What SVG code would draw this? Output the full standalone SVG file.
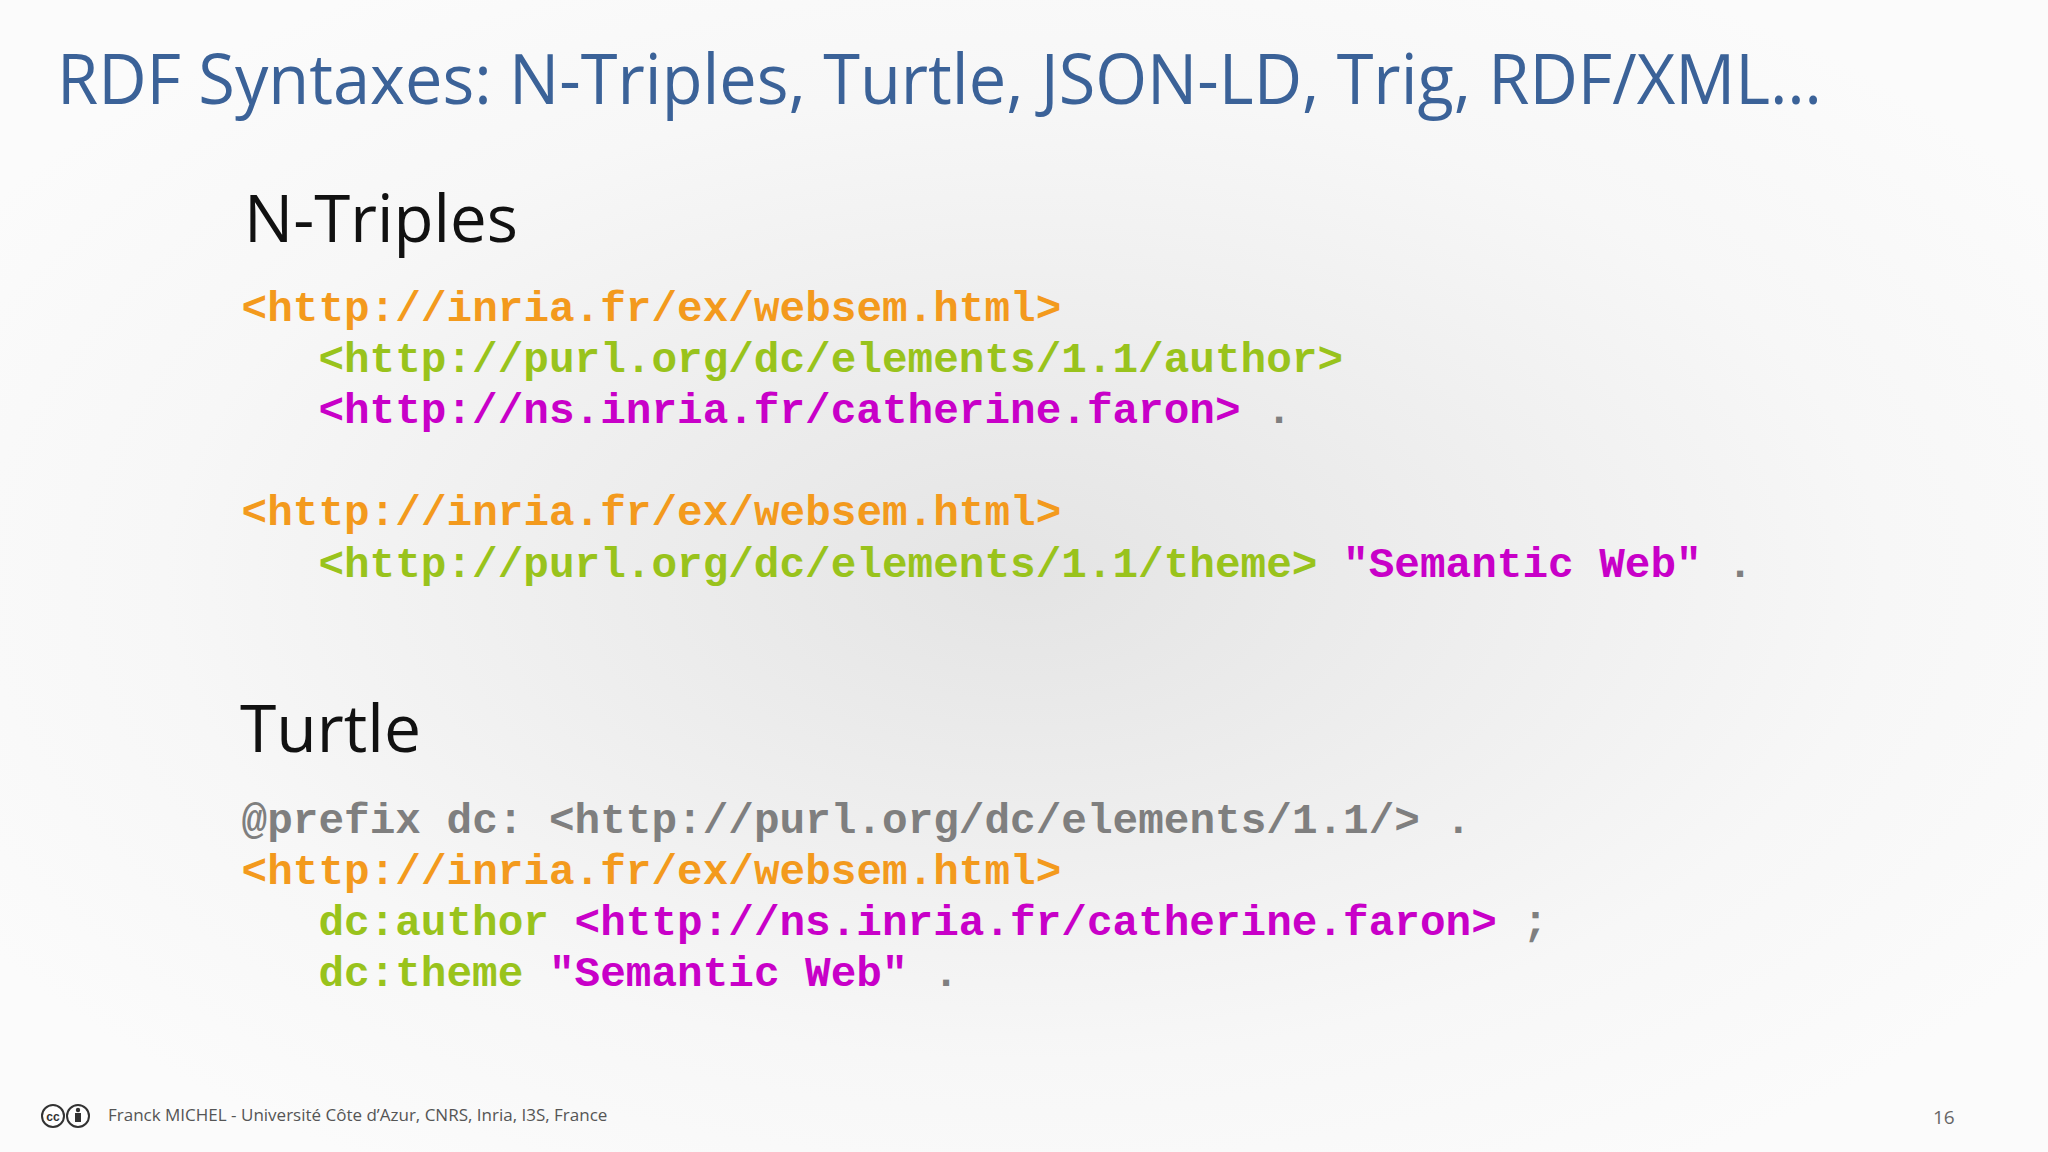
<svg xmlns="http://www.w3.org/2000/svg" width="2048" height="1152" viewBox="0 0 2048 1152">
<defs>
<radialGradient id="bg" cx="0.5" cy="0.5" r="0.6">
<stop offset="0" stop-color="#e4e4e4"/><stop offset="0.7" stop-color="#f7f7f7"/><stop offset="1" stop-color="#fbfbfb"/>
</radialGradient>
<style>
.code{font-family:"Liberation Mono",monospace;font-weight:bold;font-size:42.7px;white-space:pre}
.o{fill:#f39a1d}.g{fill:#99c31c}.m{fill:#c800c8}.k{fill:#7f7f7f}
.h{font-family:"Open Sans","Noto Sans",sans-serif;font-size:65px;fill:#111}
</style>
</defs>
<rect width="2048" height="1152" fill="url(#bg)"/>
<text x="57" y="104" font-family="Open Sans,Noto Sans,sans-serif" font-size="70" fill="#3b6298" textLength="1765" lengthAdjust="spacingAndGlyphs">RDF Syntaxes: N-Triples, Turtle, JSON-LD, Trig, RDF/XML…</text>
<g id="ntriples">
<text class="h" x="244" y="242" textLength="274" lengthAdjust="spacingAndGlyphs">N-Triples</text>
<text class="code" xml:space="preserve" x="241.6" y="321"><tspan class="o">&lt;http://inria.fr/ex/websem.html&gt;</tspan></text>
<text class="code" xml:space="preserve" x="318.4" y="372"><tspan class="g">&lt;http://purl.org/dc/elements/1.1/author&gt;</tspan></text>
<text class="code" xml:space="preserve" x="318.4" y="423"><tspan class="m">&lt;http://ns.inria.fr/catherine.faron&gt;</tspan><tspan class="k"> .</tspan></text>
<text class="code" xml:space="preserve" x="241.6" y="525"><tspan class="o">&lt;http://inria.fr/ex/websem.html&gt;</tspan></text>
<text class="code" xml:space="preserve" x="318.4" y="577"><tspan class="g">&lt;http://purl.org/dc/elements/1.1/theme&gt;</tspan><tspan class="m"> "Semantic Web"</tspan><tspan class="k"> .</tspan></text>
</g>
<g id="turtle">
<text class="h" x="240" y="752" textLength="181" lengthAdjust="spacingAndGlyphs">Turtle</text>
<text class="code" xml:space="preserve" x="241.6" y="833"><tspan class="k">@prefix dc: &lt;http://purl.org/dc/elements/1.1/&gt; .</tspan></text>
<text class="code" xml:space="preserve" x="241.6" y="884"><tspan class="o">&lt;http://inria.fr/ex/websem.html&gt;</tspan></text>
<text class="code" xml:space="preserve" x="318.4" y="935"><tspan class="g">dc:author</tspan><tspan class="m"> &lt;http://ns.inria.fr/catherine.faron&gt;</tspan><tspan class="k"> ;</tspan></text>
<text class="code" xml:space="preserve" x="318.4" y="986"><tspan class="g">dc:theme</tspan><tspan class="m"> "Semantic Web"</tspan><tspan class="k"> .</tspan></text>
</g>
<g id="footer">
<circle cx="53" cy="1116" r="11" fill="#fff" stroke="#333" stroke-width="2"/>
<text x="53" y="1121" font-family="Liberation Sans,sans-serif" font-size="12" font-weight="bold" text-anchor="middle" fill="#333">cc</text>
<circle cx="78" cy="1116" r="11" fill="#fff" stroke="#333" stroke-width="2"/>
<circle cx="78" cy="1110" r="2.2" fill="#333"/>
<rect x="75" y="1113" width="6" height="9" fill="#333"/>
<text x="108" y="1121" font-family="Open Sans,Noto Sans,sans-serif" font-size="17" fill="#555">Franck MICHEL - Université Côte d’Azur, CNRS, Inria, I3S, France</text>
<text x="1933" y="1124" font-family="Open Sans,Noto Sans,sans-serif" font-size="19" fill="#666">16</text>
</g>
</svg>
